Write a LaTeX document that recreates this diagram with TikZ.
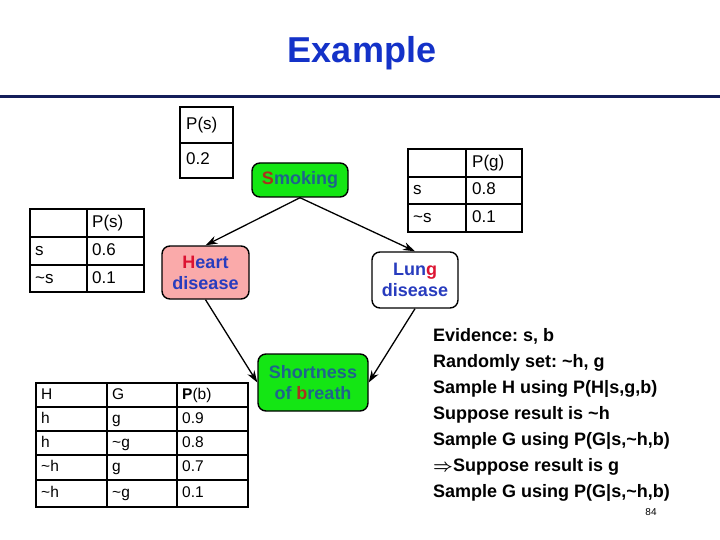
\documentclass[tikz,border=0pt]{standalone}
\usepackage{fontspec}
\setmainfont{Liberation Sans}
\usetikzlibrary{arrows.meta}
\frenchspacing
\definecolor{titleblue}{RGB}{20,50,200}
\definecolor{rulenavy}{RGB}{20,30,90}
\definecolor{boxgreen}{RGB}{20,230,20}
\definecolor{boxpink}{RGB}{250,170,170}
\definecolor{tealtext}{RGB}{30,100,140}
\definecolor{bluetext}{RGB}{40,60,190}
\definecolor{redtext}{RGB}{220,20,50}
\definecolor{browntext}{RGB}{170,50,30}
\begin{document}
\begin{tikzpicture}[x=1pt, y=-1pt,
    varbox/.style={draw=black, line width=1.4pt, rounded corners=8pt, align=center,
        inner sep=0pt, font=\bfseries\fontsize{18}{21}\selectfont},
    cpt/.style={line width=1.4pt},
    cell/.style={anchor=west, inner sep=0pt, text height=12pt, text depth=3.5pt,
        font=\fontsize{17}{19}\selectfont},
    small cell/.style={anchor=west, inner sep=0pt, text height=11pt, text depth=3pt,
        font=\fontsize{15.5}{17}\selectfont},
    steptext/.style={anchor=west, inner sep=0pt, text height=13pt, text depth=4pt,
        font=\bfseries\fontsize{18}{20}\selectfont},
    link/.style={-{Stealth[length=12pt, width=8pt]}, line width=1.3pt}]
    \useasboundingbox (0,0) rectangle (720,540);

    \node[font=\bfseries\fontsize{36}{40}\selectfont, text=titleblue] (title) at (362,53) {Example};
    \draw[line width=3pt, rulenavy] (0,97) -- (720,97);

    \node[varbox, fill=boxgreen, minimum width=96pt, minimum height=34pt] (smoking) at (300,180)
        {\textcolor{browntext}{S}\textcolor{tealtext}{moking}};
    \node[varbox, fill=boxpink, minimum width=87pt, minimum height=53pt] (heart) at (205.5,272.5)
        {\textcolor{redtext}{H}\textcolor{bluetext}{eart}\\\textcolor{bluetext}{disease}};
    \node[varbox, fill=white, minimum width=86pt, minimum height=56pt] (lung) at (415,280)
        {\textcolor{bluetext}{Lun}\textcolor{redtext}{g}\\\textcolor{bluetext}{disease}};
    \node[varbox, fill=boxgreen, minimum width=110pt, minimum height=57pt] (breath) at (313,382.5)
        {\textcolor{tealtext}{Shortness}\\\textcolor{tealtext}{of }\textcolor{browntext}{b}\textcolor{tealtext}{reath}};

    \draw[link] (smoking.south) -- (heart.north);
    \draw[link] (smoking.south) -- (lung.north);
    \draw[link] (heart.south) -- (breath.west);
    \draw[link] (lung.south) -- (breath.east);

    \draw[cpt] (180,107) rectangle (233,178);
    \draw[cpt] (180,143) -- (233,143);
    \draw (186,125) node[cell] {P(s)};
    \draw (186,160) node[cell] {0.2};

    \draw[cpt] (408,149) rectangle (522,232);
    \draw[cpt] (466,149) -- (466,232);
    \draw[cpt] (408,177) -- (522,177);
    \draw[cpt] (408,204) -- (522,204);
    \draw (472,163) node[cell] {P(g)};
    \draw (413,190) node[cell] {s};
    \draw (472,190) node[cell] {0.8};
    \draw (413,218) node[cell] {\textasciitilde s};
    \draw (472,218) node[cell] {0.1};

    \draw[cpt] (30,209) rectangle (144,292);
    \draw[cpt] (87,209) -- (87,292);
    \draw[cpt] (30,237) -- (144,237);
    \draw[cpt] (30,265) -- (144,265);
    \draw (92,223) node[cell] {P(s)};
    \draw (35,251) node[cell] {s};
    \draw (92,251) node[cell] {0.6};
    \draw (35,279) node[cell] {\textasciitilde s};
    \draw (92,279) node[cell] {0.1};

    \draw[cpt] (36,383) rectangle (248,507);
    \draw[cpt] (107,383) -- (107,507);
    \draw[cpt] (177,383) -- (177,507);
    \draw[cpt] (36,407) -- (248,407);
    \draw[cpt] (36,431) -- (248,431);
    \draw[cpt] (36,455) -- (248,455);
    \draw[cpt] (36,480) -- (248,480);
    \draw (41,395) node[small cell] {H};
    \draw (112,395) node[small cell] {G};
    \draw (182,395) node[small cell] {\textbf{P}(b)};
    \draw (41,419) node[small cell] {h};
    \draw (112,419) node[small cell] {g};
    \draw (182,419) node[small cell] {0.9};
    \draw (41,443) node[small cell] {h};
    \draw (112,443) node[small cell] {\textasciitilde g};
    \draw (182,443) node[small cell] {0.8};
    \draw (41,467.5) node[small cell] {\textasciitilde h};
    \draw (112,467.5) node[small cell] {g};
    \draw (182,467.5) node[small cell] {0.7};
    \draw (41,493.5) node[small cell] {\textasciitilde h};
    \draw (112,493.5) node[small cell] {\textasciitilde g};
    \draw (182,493.5) node[small cell] {0.1};

    \node[steptext] (line1) at (433,337) {Evidence: s, b};
    \node[steptext] (line2) at (433,363) {Randomly set: \textasciitilde h, g};
    \node[steptext] (line3) at (433,389) {Sample H using P(H|s,g,b)};
    \node[steptext] (line4) at (433,415) {Suppose result is \textasciitilde h};
    \node[steptext] (line5) at (433,441) {Sample G using P(G|s,\textasciitilde h,b)};
    \node[steptext] (line6) at (433,467) {{\boldmath$\Rightarrow$}Suppose result is g};
    \node[steptext] (line7) at (433,493) {Sample G using P(G|s,\textasciitilde h,b)};

    \node[font=\fontsize{10}{12}\selectfont, inner sep=0pt] (page) at (651,512) {84};
\end{tikzpicture}
\end{document}
